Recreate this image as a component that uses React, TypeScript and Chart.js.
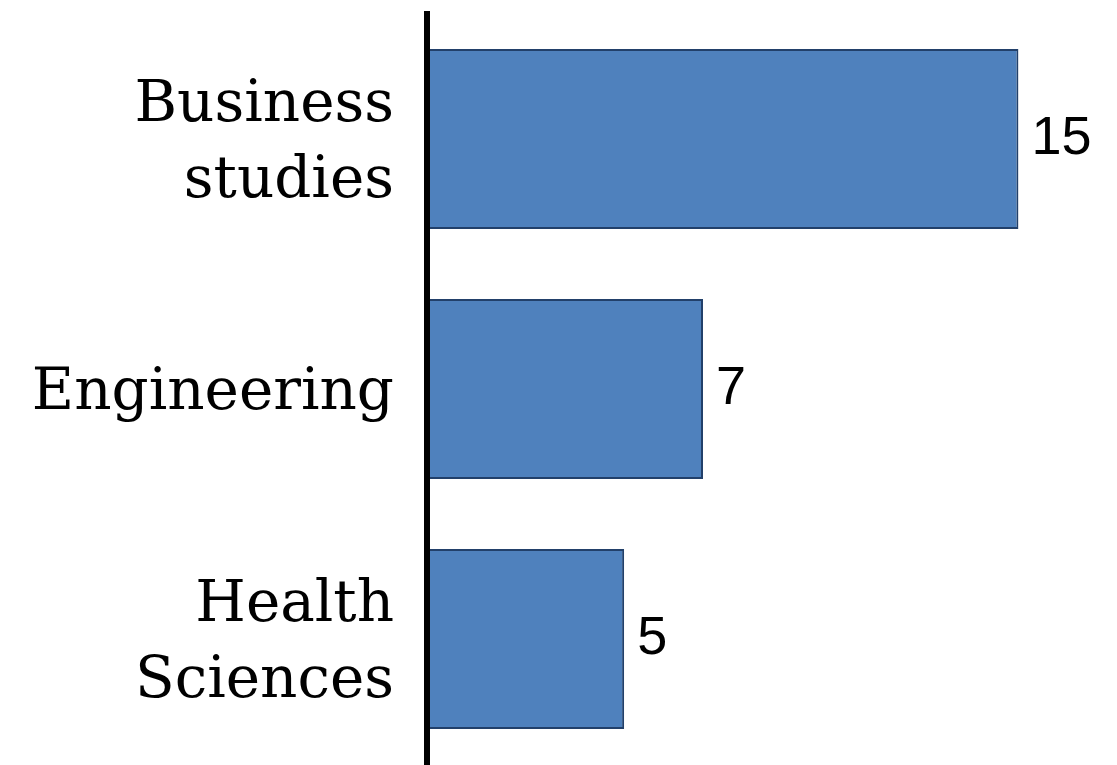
import React, { useEffect, useRef } from "react";
import { Chart, registerables } from "chart.js";

Chart.register(...registerables);

const categories: (string | string[])[] = [["Business", "studies"], "Engineering", ["Health", "Sciences"]];
const values: number[] = [15, 7, 5];

const valueLabelPlugin = {
  id: "valueLabels",
  afterDatasetsDraw(chart: any) {
    const ctx = chart.ctx;
    const meta = chart.getDatasetMeta(0);
    ctx.save();
    ctx.font = '54px "Liberation Sans", Arial, sans-serif';
    ctx.fillStyle = "#000000";
    ctx.textAlign = "left";
    ctx.textBaseline = "middle";
    meta.data.forEach((bar: any, i: number) => {
      ctx.fillText(String(values[i]), bar.x + 13, bar.y);
    });
    ctx.restore();
  },
};

export default function App() {
  const canvasRef = useRef<HTMLCanvasElement | null>(null);

  useEffect(() => {
    if (!canvasRef.current) return;
    const chart = new Chart(canvasRef.current, {
      type: "bar",
      data: {
        labels: categories as any,
        datasets: [
          {
            data: values,
            backgroundColor: "#4F81BD",
            borderColor: "#22406A",
            borderWidth: 2,
            borderSkipped: "left",
            categoryPercentage: 1,
            barPercentage: 0.72,
          },
        ],
      },
      options: {
        indexAxis: "y",
        animation: false,
        responsive: false,
        maintainAspectRatio: false,
        layout: { padding: { top: 14, bottom: 1, left: 0, right: 0 } },
        plugins: {
          legend: { display: false },
          tooltip: { enabled: false },
        },
        scales: {
          x: {
            display: false,
            min: 0,
            max: 17.5,
          },
          y: {
            grid: { display: false, drawTicks: false },
            border: { display: true, color: "#000000", width: 6, z: 2 } as any,
            ticks: {
              color: "#000000",
              padding: 33,
              labelOffset: 5,
              font: { family: '"DejaVu Serif", serif', size: 58, lineHeight: 1.3 },
            },
            afterFit: (scale: any) => {
              scale.width = 427;
              scale.paddingTop = 0;
              scale.paddingBottom = 0;
            },
          },
        },
      },
      plugins: [valueLabelPlugin],
    });
    return () => chart.destroy();
  }, []);

  return (
    <div style={{ position: "fixed", left: 0, top: 0, width: 1117, height: 765, background: "#ffffff" }}>
      <canvas ref={canvasRef} width={1117} height={765} style={{ display: "block" }} />
    </div>
  );
}
